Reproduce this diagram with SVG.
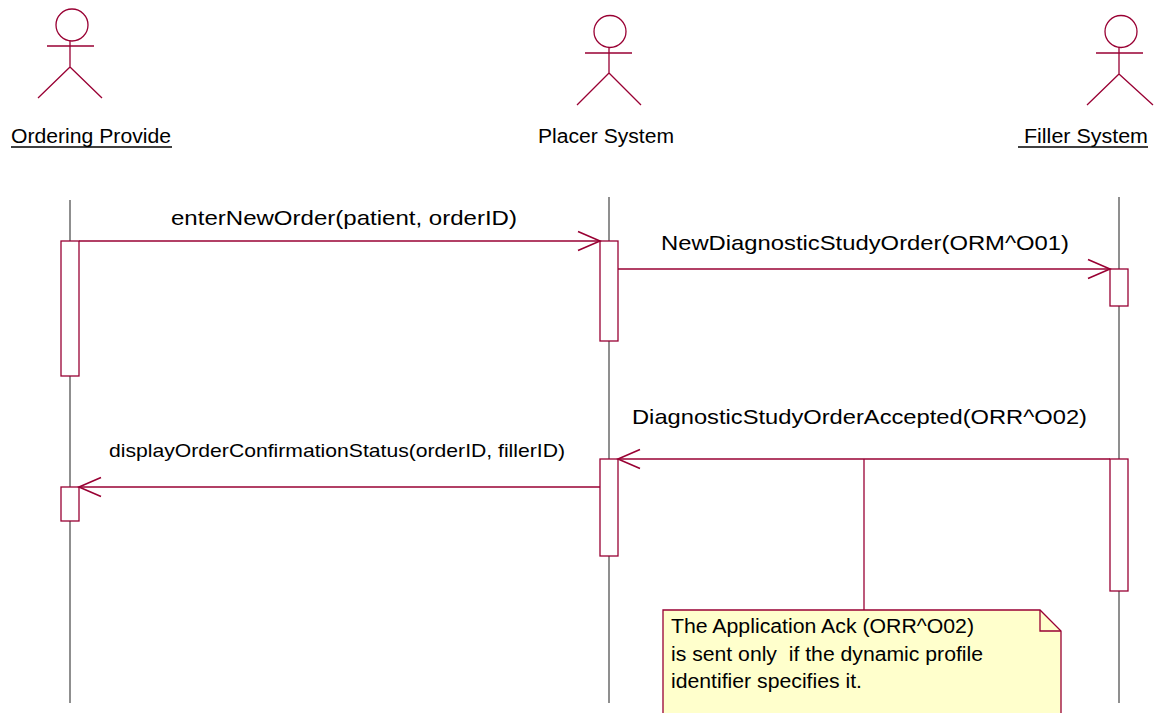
<svg xmlns="http://www.w3.org/2000/svg" width="1160" height="713" viewBox="0 0 1160 713">
<style>
.t{font-family:"Liberation Sans",Arial,sans-serif;fill:#000;white-space:pre}
.actor{fill:none;stroke:#990033;stroke-width:1.3}
.life{stroke:#333;stroke-width:1.1}
.act{fill:#fff;stroke:#990033;stroke-width:1.3}
.msg{fill:none;stroke:#990033;stroke-width:1.3}
.ul{stroke:#000;stroke-width:1.3}
</style>
<defs>
<marker id="open" viewBox="-24 -12 26 24" refX="0" refY="0" markerWidth="26" markerHeight="24" markerUnits="userSpaceOnUse" orient="auto">
<path d="M-22,-9.5 L0,0 L-22,9.5" fill="none" stroke="#990033" stroke-width="1.6"/>
</marker>
</defs>
<g id="ordering">
<circle class="actor" cx="72" cy="25" r="16"/>
<path class="actor" d="M47,46 H94 M70,41 V67 M70,67 L38,98 M70,67 L102,98"/>
<text class="t" x="11" y="143" font-size="20" textLength="160" lengthAdjust="spacingAndGlyphs">Ordering Provide</text>
<line class="ul" x1="11" y1="147" x2="172" y2="147"/>
<line class="life" x1="70" y1="200" x2="70" y2="703"/>
<rect class="act" x="61" y="241" width="18" height="135"/>
<rect class="act" x="61" y="487" width="18" height="34"/>
</g>
<g id="placer">
<circle class="actor" cx="610" cy="31.5" r="16"/>
<path class="actor" d="M585,53 H632 M609,47 V73 M609,73 L577,105 M609,73 L641,105"/>
<text class="t" x="538" y="143" font-size="20" textLength="136" lengthAdjust="spacingAndGlyphs">Placer System</text>
<line class="life" x1="609" y1="197" x2="609" y2="703"/>
<rect class="act" x="600" y="241" width="18" height="100"/>
<rect class="act" x="600" y="459" width="18" height="97"/>
</g>
<g id="filler">
<circle class="actor" cx="1121" cy="31.5" r="16"/>
<path class="actor" d="M1096,53 H1143 M1119,47 V74 M1119,74 L1087,105 M1119,74 L1153,105"/>
<text class="t" x="1018" y="143" font-size="20" textLength="130" lengthAdjust="spacingAndGlyphs"> Filler System</text>
<line class="ul" x1="1018" y1="147" x2="1148" y2="147"/>
<line class="life" x1="1119" y1="197" x2="1119" y2="703"/>
<rect class="act" x="1110" y="269" width="18" height="37"/>
<rect class="act" x="1110" y="459" width="18" height="132"/>
</g>
<g id="connectors">
<line class="msg" x1="79" y1="241" x2="600" y2="241" marker-end="url(#open)"/>
<text class="t" x="171" y="225" font-size="21" textLength="346" lengthAdjust="spacingAndGlyphs">enterNewOrder(patient, orderID)</text>
<line class="msg" x1="618" y1="269" x2="1110" y2="269" marker-end="url(#open)"/>
<text class="t" x="661" y="250" font-size="21" textLength="408" lengthAdjust="spacingAndGlyphs">NewDiagnosticStudyOrder(ORM^O01)</text>
<line class="msg" x1="1110" y1="459" x2="618" y2="459" marker-end="url(#open)"/>
<text class="t" x="632" y="424" font-size="21" textLength="455" lengthAdjust="spacingAndGlyphs">DiagnosticStudyOrderAccepted(ORR^O02)</text>
<line class="msg" x1="600" y1="487" x2="79" y2="487" marker-end="url(#open)"/>
<text class="t" x="109" y="457" font-size="19" textLength="456" lengthAdjust="spacingAndGlyphs">displayOrderConfirmationStatus(orderID, fillerID)</text>
<line class="msg" x1="864" y1="459" x2="864" y2="610"/>
</g>
<g id="note">
<path d="M663,610 H1040 L1061,631 V716 H663 Z" fill="#ffffcc" stroke="#990033" stroke-width="1.3"/>
<path d="M1040,610 V631 H1061" fill="none" stroke="#990033" stroke-width="1.3"/>
<text class="t" x="671" y="633" font-size="19.5" textLength="303" lengthAdjust="spacingAndGlyphs">The Application Ack (ORR^O02)</text>
<text class="t" x="671" y="661" font-size="19.5" textLength="312" lengthAdjust="spacingAndGlyphs">is sent only  if the dynamic profile</text>
<text class="t" x="671" y="688" font-size="19.5" textLength="191" lengthAdjust="spacingAndGlyphs">identifier specifies it.</text>
</g>
</svg>
